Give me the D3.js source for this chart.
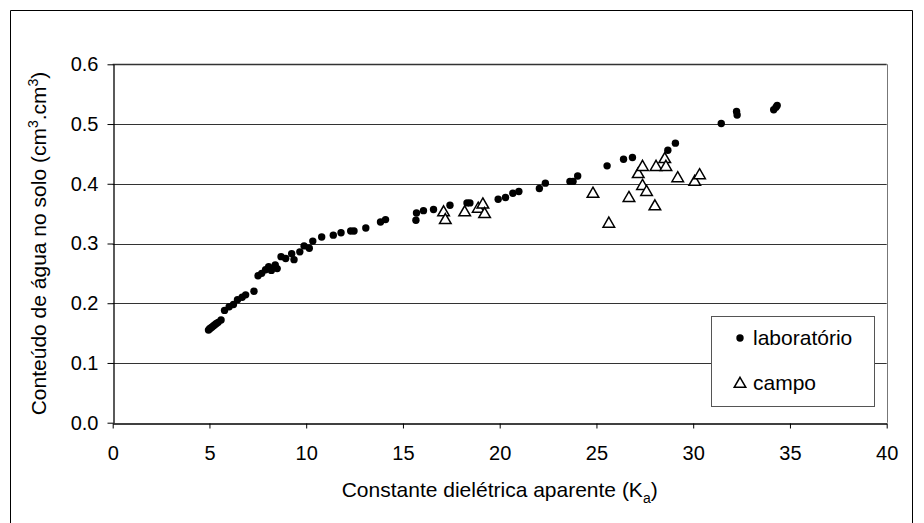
<!DOCTYPE html>
<html>
<head>
<meta charset="utf-8">
<script src="https://cdn.jsdelivr.net/npm/d3@7"></script>
<style>
  html, body { margin: 0; padding: 0; background: #fff; }
  svg { display: block; font-family: "Liberation Sans", Arial, sans-serif; }
</style>
</head>
<body>
<svg id="chart" width="924" height="523"></svg>
<script>
// Laboratory measurements: dielectric constant Ka vs. soil water content
const labKa = [4.95, 5.0, 5.05, 5.12, 5.2, 5.28, 5.36, 5.45, 5.6, 5.78, 6.02, 6.24, 6.45, 6.69, 6.87, 7.3,
  7.51, 7.7, 7.9, 8.06, 8.2, 8.4, 8.5, 8.7, 8.94, 9.25, 9.37, 9.67, 9.89, 10.16, 10.34, 10.8,
  11.4, 11.8, 12.3, 12.47, 13.08, 13.84, 14.1, 15.67, 15.7, 16.06, 16.58, 17.43, 18.31, 18.46,
  19.92, 20.3, 20.68, 20.99, 22.05, 22.36, 23.63, 23.79, 24.03, 25.55, 26.4, 26.86, 28.69, 29.08,
  31.45, 32.24, 32.27, 34.16, 34.28, 34.34];
const labTheta = [0.155, 0.157, 0.158, 0.16, 0.162, 0.164, 0.166, 0.168, 0.172, 0.188, 0.194, 0.198, 0.206, 0.21, 0.214, 0.22,
  0.246, 0.25, 0.256, 0.261, 0.255, 0.264, 0.258, 0.278, 0.275, 0.283, 0.273, 0.286, 0.296, 0.292, 0.304, 0.311,
  0.314, 0.318, 0.321, 0.321, 0.326, 0.336, 0.34, 0.339, 0.351, 0.355, 0.357, 0.364, 0.368, 0.368,
  0.374, 0.377, 0.384, 0.387, 0.392, 0.401, 0.404, 0.404, 0.413, 0.43, 0.441, 0.444, 0.456, 0.468,
  0.501, 0.521, 0.515, 0.524, 0.528, 0.531];

// Field measurements
const campoKa = [17.1, 17.19, 18.19, 18.89, 19.13, 19.22, 24.82, 25.64, 26.68, 27.16, 27.38, 27.38, 27.59,
  28.02, 28.08, 28.53, 28.59, 29.2, 30.08, 30.33];
const campoTheta = [0.352, 0.339, 0.352, 0.358, 0.365, 0.349, 0.383, 0.333, 0.376, 0.416, 0.428, 0.396, 0.386,
  0.362, 0.428, 0.441, 0.428, 0.409, 0.403, 0.414];

const xTicks = [0, 5, 10, 15, 20, 25, 30, 35, 40];
const yTicks = [0.0, 0.1, 0.2, 0.3, 0.4, 0.5, 0.6];
const legendLabels = ["laboratório", "campo"];

const svg = d3.select("#chart");
const W = 924, H = 523;
const plot = { left: 112.7, right: 886.7, top: 64.3, bottom: 422.7 };

const x = d3.scaleLinear().domain([0, 40]).range([plot.left, plot.right]);
const y = d3.scaleLinear().domain([0, 0.6]).range([plot.bottom, plot.top]);

// outer frame (open at the bottom)
svg.append("path")
  .attr("d", `M10.5,${H} V10.5 H912.5 V${H}`)
  .attr("fill", "none").attr("stroke", "#000").attr("stroke-width", 1);

// horizontal gridlines
svg.append("g").selectAll("line").data(yTicks.filter(d => d > 0)).join("line")
  .attr("x1", plot.left).attr("x2", plot.right)
  .attr("y1", d => Math.round(y(d)) + 0.5).attr("y2", d => Math.round(y(d)) + 0.5)
  .attr("stroke", "#333").attr("stroke-width", d => d === 0.6 ? 1.6 : 1.2);

// right border of plot area
svg.append("line")
  .attr("x1", Math.round(plot.right) + 0.5).attr("x2", Math.round(plot.right) + 0.5)
  .attr("y1", plot.top).attr("y2", plot.bottom)
  .attr("stroke", "#777").attr("stroke-width", 1);

// axes
const xAxis = svg.append("g")
  .attr("transform", `translate(0,${Math.round(plot.bottom) + 0.5})`)
  .call(d3.axisBottom(x).tickValues(xTicks).tickFormat(d3.format("d")).tickSize(5).tickPadding(17).tickSizeOuter(0));
const yAxis = svg.append("g")
  .attr("transform", `translate(${Math.round(plot.left) + 0.5},0)`)
  .call(d3.axisLeft(y).tickValues(yTicks).tickFormat(d3.format(".1f")).tickSize(6).tickPadding(9).tickSizeOuter(0));

[xAxis, yAxis].forEach(g => {
  g.select(".domain").attr("stroke", "#000").attr("stroke-width", 1.3);
  g.selectAll(".tick line").attr("stroke", "#000").attr("stroke-width", 1);
  g.selectAll(".tick text").attr("fill", "#000").style("font-size", "20px")
    .style("font-family", "'Liberation Sans', Arial, sans-serif");
});

// axis titles
const xt = svg.append("text")
  .attr("x", (plot.left + plot.right) / 2).attr("y", 497)
  .attr("text-anchor", "middle").style("font-size", "21px").attr("fill", "#000");
xt.append("tspan").text("Constante dielétrica aparente (K");
xt.append("tspan").attr("dy", 6).style("font-size", "14px").text("a");
xt.append("tspan").attr("dy", -6).text(")");

const yt = svg.append("text")
  .attr("transform", `translate(46,${(plot.top + plot.bottom) / 2}) rotate(-90)`)
  .attr("text-anchor", "middle").style("font-size", "21px").attr("fill", "#000");
yt.append("tspan").text("Conteúdo de água no solo (cm");
yt.append("tspan").attr("dy", -8).style("font-size", "14px").text("3");
yt.append("tspan").attr("dy", 8).text(".cm");
yt.append("tspan").attr("dy", -8).style("font-size", "14px").text("3");
yt.append("tspan").attr("dy", 8).text(")");

// triangle symbol
const tri = d3.symbol().type(d3.symbolTriangle).size(58);

// laboratory points
svg.append("g").selectAll("circle").data(d3.zip(labKa, labTheta)).join("circle")
  .attr("cx", d => x(d[0])).attr("cy", d => y(d[1])).attr("r", 3.7).attr("fill", "#000");

// field points
svg.append("g").selectAll("path").data(d3.zip(campoKa, campoTheta)).join("path")
  .attr("d", tri)
  .attr("transform", d => `translate(${x(d[0])},${y(d[1])})`)
  .attr("fill", "#fff").attr("stroke", "#000").attr("stroke-width", 1.5);

// legend
const lg = svg.append("g");
lg.append("rect").attr("x", 711.5).attr("y", 316.5).attr("width", 163).attr("height", 90)
  .attr("fill", "#fff").attr("stroke", "#555").attr("stroke-width", 1);
lg.append("circle").attr("cx", 740).attr("cy", 338).attr("r", 3.7).attr("fill", "#000");
lg.append("path").attr("d", tri).attr("transform", "translate(740,384)")
  .attr("fill", "#fff").attr("stroke", "#000").attr("stroke-width", 1.5);
lg.append("text").attr("x", 753).attr("y", 345).style("font-size", "21px").text(legendLabels[0]);
lg.append("text").attr("x", 753).attr("y", 390).style("font-size", "21px").text(legendLabels[1]);
</script>
</body>
</html>
